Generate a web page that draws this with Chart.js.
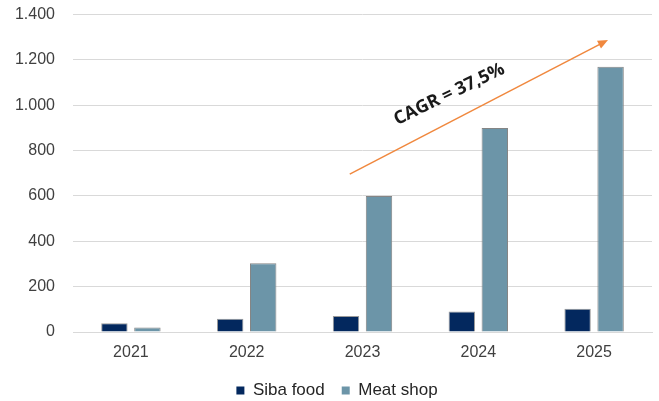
<!DOCTYPE html>
<html>
<head>
<meta charset="utf-8">
<script src="https://cdn.jsdelivr.net/npm/chart.js@4/dist/chart.umd.min.js"></script>
<style>
  html, body { margin: 0; padding: 0; background: #fff; }
  #wrap { width: 659px; height: 401px; position: relative; }
</style>
</head>
<body>
<div id="wrap"><canvas id="c"></canvas></div>
<script>
// Revenue by year, two businesses
const years = ['2021', '2022', '2023', '2024', '2025'];
const sibaFood = [39, 58, 71, 90, 103];
const meatShop = [20, 303, 600, 900, 1170];
const yTicks = [0, 200, 400, 600, 800, 1000, 1200, 1400];
const cagrLabel = 'CAGR = 37,5%';
// Growth arrow endpoints in data space: [category index, value]
const arrowFrom = [1.89, 696];
const arrowTo = [4.12, 1288];

const fmt = v => v.toLocaleString('de-DE');
const baseFont = '"Liberation Sans", Arial, sans-serif';

const growthArrow = {
  id: 'growthArrow',
  afterDatasetsDraw(chart) {
    const { ctx, scales: { x, y } } = chart;
    const x0 = x.getPixelForValue(arrowFrom[0]);
    const y0 = y.getPixelForValue(arrowFrom[1]);
    const x1 = x.getPixelForValue(arrowTo[0]);
    const y1 = y.getPixelForValue(arrowTo[1]);
    const ang = Math.atan2(y1 - y0, x1 - x0);
    const head = 11;
    ctx.save();
    ctx.strokeStyle = '#F0883E';
    ctx.fillStyle = '#F0883E';
    ctx.lineWidth = 1.5;
    ctx.beginPath();
    ctx.moveTo(x0, y0);
    ctx.lineTo(x1 - Math.cos(ang) * head * 0.8, y1 - Math.sin(ang) * head * 0.8);
    ctx.stroke();
    ctx.beginPath();
    ctx.moveTo(x1, y1);
    ctx.lineTo(x1 - head * Math.cos(ang - 0.4), y1 - head * Math.sin(ang - 0.4));
    ctx.lineTo(x1 - head * Math.cos(ang + 0.4), y1 - head * Math.sin(ang + 0.4));
    ctx.closePath();
    ctx.fill();

    // label sits above the arrow, tilted a little less than it
    const t = 0.43;
    const mx = x0 + (x1 - x0) * t;
    const my = y0 + (y1 - y0) * t;
    const nx = Math.sin(ang), ny = -Math.cos(ang);
    ctx.translate(mx + nx * 25, my + ny * 25);
    ctx.rotate(ang + 0.03);
    ctx.fillStyle = '#1a1a1a';
    ctx.font = 'bold 18px "Open Sans", sans-serif';
    ctx.textAlign = 'center';
    ctx.textBaseline = 'middle';
    ctx.fillText(cagrLabel, 0, 0);
    ctx.restore();
  }
};

// keep the legend band compact at the foot of the canvas, centred under the plot
const compactLegend = {
  id: 'compactLegend',
  afterInit(chart) {
    const lg = chart.legend;
    if (!lg) return;
    const fit = lg.fit.bind(lg);
    lg.fit = function () { fit(); this.height = 36; };
  },
  afterLayout(chart) {
    const lg = chart.legend;
    if (!lg) return;
    const shift = 11;
    lg.left += shift;
    lg.right += shift;
  }
};

new Chart(document.getElementById('c'), {
  type: 'bar',
  data: {
    labels: years,
    datasets: [
      {
        label: 'Siba food',
        data: sibaFood,
        backgroundColor: '#03285E',
        borderColor: '#9A9A9A',
        borderWidth: 1,
        categoryPercentage: 0.57,
        barPercentage: 0.8
      },
      {
        label: 'Meat shop',
        data: meatShop,
        backgroundColor: '#6C95A8',
        borderColor: '#858585',
        borderWidth: 1,
        categoryPercentage: 0.57,
        barPercentage: 0.8
      }
    ]
  },
  options: {
    responsive: true,
    maintainAspectRatio: false,
    animation: false,
    layout: { padding: { top: 0, right: 7, bottom: 0, left: 0 } },
    plugins: {
      tooltip: { enabled: false },
      legend: {
        position: 'bottom',
        labels: {
          font: { family: baseFont, size: 17 },
          color: '#262626',
          boxWidth: 8,
          boxHeight: 8,
          padding: 17,
          generateLabels(chart) {
            return chart.data.datasets.map((ds, i) => ({
              text: ds.label,
              fillStyle: ds.backgroundColor,
              strokeStyle: ds.backgroundColor,
              lineWidth: 0,
              datasetIndex: i,
              fontColor: '#262626'
            }));
          }
        }
      }
    },
    scales: {
      x: {
        grid: { display: false, drawTicks: false },
        border: { display: true, color: '#D9D9D9', width: 1 },
        ticks: {
          font: { family: baseFont, size: 16 },
          color: '#404040',
          padding: 11
        },
        afterFit(scale) { scale.height = 33; }
      },
      y: {
        min: 0,
        max: 1400,
        afterBuildTicks(scale) { scale.ticks = yTicks.map(v => ({ value: v })); },
        grid: { color: '#D9D9D9', drawTicks: true, tickLength: 13, tickColor: 'rgba(0,0,0,0)', lineWidth: 1 },
        border: { display: false },
        ticks: {
          font: { family: baseFont, size: 16 },
          color: '#404040',
          padding: 5,
          callback: v => fmt(v)
        },
        afterFit(scale) { scale.width = 73; }
      }
    }
  },
  plugins: [growthArrow, compactLegend]
});
</script>
</body>
</html>
